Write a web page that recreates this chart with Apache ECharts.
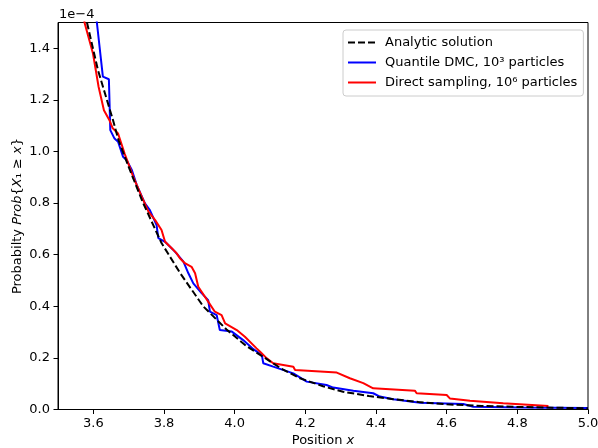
<!DOCTYPE html>
<html>
<head>
<meta charset="utf-8">
<script src="https://cdn.jsdelivr.net/npm/echarts@6/dist/echarts.min.js"></script>
<style>
html,body{margin:0;padding:0;background:#fff;}
#chart{width:598px;height:448px;}
</style>
</head>
<body>
<div id="chart"></div>
<script>
// y values are in units of 1e-4 (offset text "1e−4")
const X_TICKS = [3.6, 3.8, 4.0, 4.2, 4.4, 4.6, 4.8, 5.0];
const Y_TICKS = [0.0, 0.2, 0.4, 0.6, 0.8, 1.0, 1.2, 1.4];
const SERIES_NAMES = ['Analytic solution', 'Quantile DMC, 10\u00b3 particles', 'Direct sampling, 10\u2076 particles'];

const analytic = [
  [3.582,1.50],[3.613,1.316],[3.656,1.12],[3.671,1.045],[3.70,0.94],[3.741,0.80],[3.793,0.645],
  [3.845,0.53],[3.911,0.40],[3.977,0.31],[4.034,0.245],[4.072,0.212],[4.13,0.16],[4.185,0.121],
  [4.25,0.09],[4.307,0.069],[4.38,0.052],[4.449,0.040],[4.52,0.029],[4.6,0.020],[4.7,0.014],
  [4.8,0.010],[4.9,0.007],[5.0,0.005]
];

const quantileDMC = [
  [3.606,1.56],[3.610,1.50],[3.627,1.29],[3.644,1.28],[3.648,1.083],[3.660,1.05],[3.670,1.038],
  [3.684,0.98],[3.694,0.967],[3.709,0.928],[3.723,0.87],[3.746,0.799],[3.760,0.773],[3.779,0.715],
  [3.784,0.664],[3.803,0.650],[3.831,0.612],[3.855,0.573],[3.869,0.528],[3.883,0.489],[3.907,0.450],
  [3.925,0.424],[3.930,0.379],[3.949,0.366],[3.958,0.308],[3.992,0.302],[4.024,0.269],[4.050,0.237],
  [4.077,0.211],[4.081,0.179],[4.109,0.166],[4.166,0.140],[4.204,0.108],[4.260,0.095],[4.279,0.085],
  [4.336,0.073],[4.392,0.063],[4.411,0.050],[4.449,0.040],[4.525,0.026],[4.647,0.021],[4.675,0.011],
  [4.807,0.008],[5.0,0.006]
];

const directSampling = [
  [3.572,1.56],[3.575,1.50],[3.599,1.38],[3.615,1.25],[3.630,1.16],[3.646,1.12],[3.655,1.09],[3.670,1.07],
  [3.689,0.99],[3.700,0.95],[3.713,0.902],[3.737,0.825],[3.756,0.767],[3.775,0.734],[3.793,0.696],
  [3.803,0.650],[3.822,0.625],[3.836,0.605],[3.845,0.586],[3.859,0.567],[3.878,0.553],[3.888,0.528],
  [3.897,0.476],[3.925,0.418],[3.944,0.379],[3.963,0.366],[3.973,0.334],[4.006,0.308],[4.029,0.282],
  [4.062,0.237],[4.072,0.224],[4.091,0.198],[4.109,0.179],[4.166,0.166],[4.171,0.153],[4.289,0.143],
  [4.326,0.121],[4.364,0.102],[4.392,0.082],[4.510,0.073],[4.515,0.063],[4.600,0.056],[4.609,0.043],
  [4.666,0.034],[4.760,0.024],[4.888,0.014]
];

const FONT = 'DejaVu Sans';
const chart = echarts.init(document.getElementById('chart'), null, {renderer: 'canvas'});
chart.setOption({
  animation: false,
  backgroundColor: '#fff',
  textStyle: {fontFamily: FONT, color: '#000'},
  grid: {left: 58, right: 10, top: 22.5, bottom: 38.5, show: true, borderColor: '#000', borderWidth: 1,
         backgroundColor: 'transparent', containLabel: false, outerBoundsMode: 'none'},
  graphic: [{type: 'text', left: 59, top: 8, style: {text: '1e\u22124', font: '13px "DejaVu Sans"', fill: '#000'}}],
  legend: {
    orient: 'vertical', left: 343, top: 30,
    data: SERIES_NAMES,
    itemWidth: 28, itemHeight: 14, itemGap: 7,
    padding: [6, 6, 7, 4],
    backgroundColor: 'rgba(255,255,255,0.8)', borderColor: '#cccccc', borderWidth: 1, borderRadius: 3,
    itemStyle: {opacity: 0},
    textStyle: {fontFamily: FONT, fontSize: 13, color: '#000', padding: [0, 0, 0, 4]}
  },
  xAxis: {
    type: 'value', min: 3.5, max: 5.0,
    name: 'Position {i|x}', nameLocation: 'middle', nameGap: 25, nameMoveOverlap: false,
    nameTextStyle: {fontFamily: FONT, fontSize: 13, color: '#000', rich: {i: {fontStyle: 'italic', fontFamily: FONT, fontSize: 13}}},
    splitLine: {show: false},
    axisLine: {show: true, onZero: false, lineStyle: {color: '#000', width: 1}},
    axisTick: {show: true, customValues: X_TICKS, length: 4.5, lineStyle: {color: '#000'}},
    axisLabel: {customValues: X_TICKS, formatter: v => v.toFixed(1), fontFamily: FONT, fontSize: 13, color: '#000', margin: 8}
  },
  yAxis: {
    type: 'value', min: 0, max: 1.5,
    name: 'Probabilty {i|Prob}{{i|X}\u2081 \u2265 {i|x}}', nameLocation: 'middle', nameGap: 34, nameRotate: 90, nameMoveOverlap: false,
    nameTextStyle: {fontFamily: FONT, fontSize: 13, color: '#000', rich: {i: {fontStyle: 'italic', fontFamily: FONT, fontSize: 13}}},
    splitLine: {show: false},
    axisLine: {show: true, onZero: false, lineStyle: {color: '#000', width: 1}},
    axisTick: {show: true, customValues: Y_TICKS, length: 4.5, lineStyle: {color: '#000'}},
    axisLabel: {customValues: Y_TICKS, formatter: v => v.toFixed(1), fontFamily: FONT, fontSize: 13, color: '#000', margin: 8}
  },
  series: [
    {name: SERIES_NAMES[0], type: 'line', data: analytic, showSymbol: false, symbol: 'none', z: 4, clip: true,
     lineStyle: {color: '#000', width: 2, type: [7, 3]}, itemStyle: {color: '#000'}},
    {name: SERIES_NAMES[1], type: 'line', data: quantileDMC, showSymbol: false, symbol: 'none', z: 2, clip: true,
     lineStyle: {color: '#0000ff', width: 2}, itemStyle: {color: '#0000ff'}},
    {name: SERIES_NAMES[2], type: 'line', data: directSampling, showSymbol: false, symbol: 'none', z: 3, clip: true,
     lineStyle: {color: '#ff0000', width: 2}, itemStyle: {color: '#ff0000'}}
  ]
});
</script>
</body>
</html>
